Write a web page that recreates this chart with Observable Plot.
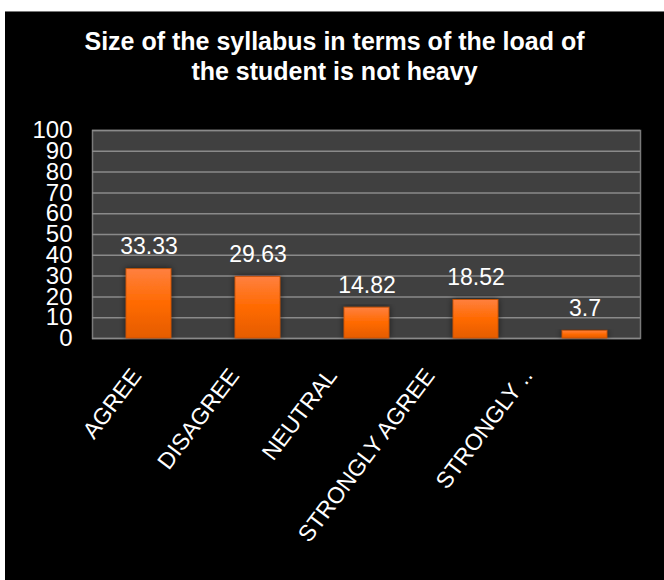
<!DOCTYPE html>
<html>
<head>
<meta charset="utf-8">
<script src="https://cdn.jsdelivr.net/npm/d3@7"></script>
<script src="https://cdn.jsdelivr.net/npm/@observablehq/plot@0.6"></script>
<style>
  html, body { margin: 0; padding: 0; background: #ffffff; }
  #frame {
    position: absolute; left: 5px; top: 11px; width: 659px; height: 569px;
    background: #000000; border-top: 1px solid #777; overflow: hidden;
  }
  #title {
    position: absolute; left: 0; top: 14px; width: 659px; text-align: center;
    color: #ffffff; font-family: "Liberation Sans", Arial, sans-serif;
    font-weight: bold; font-size: 25px; line-height: 30px;
  }
  #chart { position: absolute; left: 0; top: 99px; }
</style>
</head>
<body>
<div id="frame">
  <div id="title">Size of the syllabus in terms of the load of<br>the student is not heavy</div>
  <div id="chart"></div>
</div>
<script>
const categories = ["AGREE", "DISAGREE", "NEUTRAL", "STRONGLY AGREE", "STRONGLY DISAGREE"];
const tickLabels = ["AGREE", "DISAGREE", "NEUTRAL", "STRONGLY AGREE", "STRONGLY .."];
const values = [33.33, 29.63, 14.82, 18.52, 3.7];
const yTicks = [0, 10, 20, 30, 40, 50, 60, 70, 80, 90, 100];

const data = categories.map((c, i) => ({category: c, value: values[i], label: String(values[i])}));
const tickData = categories.map((c, i) => ({category: c, text: tickLabels[i]}));

const defs = () => {
  const d = d3.create("svg:defs");
  const g = d.append("linearGradient").attr("id", "barGrad").attr("x1", 0).attr("y1", 0).attr("x2", 0).attr("y2", 1);
  g.append("stop").attr("offset", "0%").attr("stop-color", "#ff8040");
  g.append("stop").attr("offset", "50%").attr("stop-color", "#ff6a00");
  g.append("stop").attr("offset", "100%").attr("stop-color", "#e45c00");
  const f = d.append("filter").attr("id", "shadow").attr("x", "-30%").attr("y", "-10%").attr("width", "160%").attr("height", "130%");
  f.append("feDropShadow").attr("dx", 0).attr("dy", 0).attr("stdDeviation", 3).attr("flood-color", "#000").attr("flood-opacity", 0.6);
  return d.node();
};

// the category labels sit on a slightly tighter spacing than the bars
const labelSpread = 0.897;

const chart = Plot.plot({
  width: 659,
  height: 470,
  marginLeft: 87,
  marginRight: 24,
  marginTop: 19,
  marginBottom: 243,
  style: {background: "transparent", color: "#ffffff", fontFamily: "'Liberation Sans', Arial, sans-serif"},
  x: {domain: categories, paddingInner: 0.59, paddingOuter: 0.295, label: null, axis: null},
  y: {domain: [0, 100], ticks: yTicks, label: null},
  marks: [
    defs,
    Plot.frame({fill: "#404040", stroke: "#7a7a7a", strokeWidth: 1.5}),
    Plot.gridY(yTicks, {stroke: "#8a8a8a", strokeOpacity: 1, strokeWidth: 1.5}),
    Plot.barY(data, {x: "category", y: "value", fill: "url(#barGrad)", stroke: "#c85000", strokeWidth: 0.8}),
    Plot.text(data, {x: "category", y: "value", text: "label", fill: "#ffffff", fontSize: 23, lineAnchor: "bottom", dy: -15}),
    Plot.axisY(yTicks, {tickSize: 0, tickPadding: 20, fontSize: 24, fill: "#ffffff", tickFormat: d => String(d)}),
    Plot.text(tickData, {
      x: "category", frameAnchor: "bottom", text: "text", rotate: -53, textAnchor: "end", lineAnchor: "middle",
      dx: 0, dy: 33, fontSize: 23, fill: "#ffffff",
      render: (index, scales, vals, dims, ctx, next) =>
        next(index, scales, {...vals, x: Float64Array.from(vals.x, v => v * labelSpread)}, dims, ctx)
    })
  ]
});
chart.querySelectorAll("rect").forEach(r => { if (r.getAttribute("fill") === "url(#barGrad)" || (r.parentNode && r.parentNode.getAttribute("fill") === "url(#barGrad)")) r.setAttribute("filter", "url(#shadow)"); });
document.getElementById("chart").appendChild(chart);
</script>
</body>
</html>
